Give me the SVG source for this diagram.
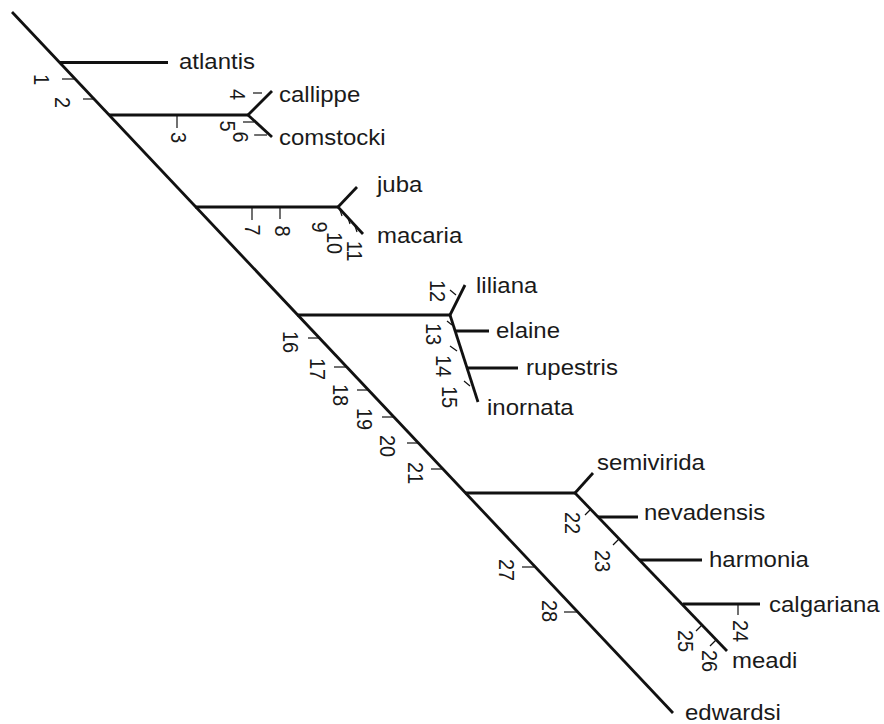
<svg xmlns="http://www.w3.org/2000/svg" width="884" height="724" viewBox="0 0 884 724">
<style>
.b{stroke:#111;stroke-width:2.8;fill:none;stroke-linecap:butt}
.t{stroke:#111;stroke-width:1.2;fill:none}
.l{font-family:"Liberation Sans",Arial,sans-serif;font-size:22px;fill:#1a1a1a}
.n{font-family:"Liberation Sans",Arial,sans-serif;font-size:20px;fill:#1a1a1a;text-anchor:middle}
</style>
<rect width="884" height="724" fill="#fff"/>
<g id="connectors">
<line class="b" x1="12" y1="12" x2="673" y2="713"/>
<line class="b" x1="59" y1="62.5" x2="168" y2="62.5"/>
<line class="b" x1="109" y1="115" x2="248" y2="115"/>
<line class="b" x1="248" y1="115" x2="272" y2="91"/>
<line class="b" x1="248" y1="115" x2="272" y2="137"/>
<line class="b" x1="195" y1="207" x2="338" y2="207"/>
<line class="b" x1="338" y1="207" x2="357" y2="187"/>
<line class="b" x1="338" y1="207" x2="363" y2="234"/>
<line class="b" x1="297" y1="315" x2="450" y2="315"/>
<line class="b" x1="450" y1="315" x2="465" y2="285"/>
<line class="b" x1="450" y1="315" x2="478" y2="402"/>
<line class="b" x1="455" y1="331" x2="489" y2="331"/>
<line class="b" x1="467" y1="368" x2="518" y2="368"/>
<line class="b" x1="465" y1="493" x2="575" y2="493"/>
<line class="b" x1="575" y1="493" x2="593" y2="473"/>
<line class="b" x1="575" y1="493" x2="727" y2="651"/>
<line class="b" x1="598" y1="517" x2="638" y2="517"/>
<line class="b" x1="640" y1="560" x2="702" y2="560"/>
<line class="b" x1="683" y1="604" x2="760" y2="604"/>
</g>
<g id="ticks">
<line class="t" x1="62" y1="79" x2="75" y2="79"/>
<line class="t" x1="83" y1="99" x2="94" y2="99"/>
<line class="t" x1="177" y1="115" x2="177" y2="128"/>
<line class="t" x1="253" y1="93" x2="262" y2="93"/>
<line class="t" x1="243" y1="122" x2="254" y2="122"/>
<line class="t" x1="254" y1="135" x2="267" y2="135"/>
<line class="t" x1="252" y1="207" x2="252" y2="220"/>
<line class="t" x1="280" y1="207" x2="280" y2="219"/>
<line class="t" x1="340" y1="210" x2="342" y2="216"/>
<line class="t" x1="348" y1="218" x2="350" y2="224"/>
<line class="t" x1="355" y1="226" x2="357" y2="232"/>
<line class="t" x1="450" y1="290" x2="456" y2="295"/>
<line class="t" x1="447" y1="321" x2="452" y2="325"/>
<line class="t" x1="450" y1="346" x2="457" y2="351"/>
<line class="t" x1="464" y1="381" x2="470" y2="386"/>
<line class="t" x1="308" y1="338" x2="319" y2="338"/>
<line class="t" x1="334" y1="367" x2="346" y2="367"/>
<line class="t" x1="357" y1="390" x2="368" y2="390"/>
<line class="t" x1="382" y1="417" x2="393" y2="417"/>
<line class="t" x1="407" y1="443" x2="418" y2="443"/>
<line class="t" x1="431" y1="469" x2="442" y2="469"/>
<line class="t" x1="522" y1="567" x2="534" y2="567"/>
<line class="t" x1="564" y1="612" x2="577" y2="612"/>
<line class="t" x1="591" y1="509" x2="585" y2="515"/>
<line class="t" x1="619" y1="539" x2="613" y2="545"/>
<line class="t" x1="738" y1="604" x2="738" y2="615"/>
<line class="t" x1="702" y1="625" x2="696" y2="631"/>
<line class="t" x1="716" y1="640" x2="710" y2="646"/>
</g>
<g id="numbers">
<text class="n" transform="translate(34 79.5) scale(1.09 1) rotate(90)">1</text>
<text class="n" transform="translate(55 102.5) scale(1.09 1) rotate(90)">2</text>
<text class="n" transform="translate(171 137.5) scale(1.09 1) rotate(90)">3</text>
<text class="n" transform="translate(230 94.5) scale(1.09 1) rotate(90)">4</text>
<text class="n" transform="translate(220 126) scale(1.09 1) rotate(90)">5</text>
<text class="n" transform="translate(233 137) scale(1.09 1) rotate(90)">6</text>
<text class="n" transform="translate(245 230) scale(1.09 1) rotate(90)">7</text>
<text class="n" transform="translate(275 231) scale(1.09 1) rotate(90)">8</text>
<text class="n" transform="translate(312 227) scale(1.09 1) rotate(90)">9</text>
<text class="n" transform="translate(327 243) scale(1.09 1) rotate(90)">10</text>
<text class="n" transform="translate(347 251) scale(1.09 1) rotate(90)">11</text>
<text class="n" transform="translate(430 291) scale(1.09 1) rotate(90)">12</text>
<text class="n" transform="translate(426 334) scale(1.09 1) rotate(90)">13</text>
<text class="n" transform="translate(436 366) scale(1.09 1) rotate(90)">14</text>
<text class="n" transform="translate(442 397) scale(1.09 1) rotate(90)">15</text>
<text class="n" transform="translate(283 342) scale(1.09 1) rotate(90)">16</text>
<text class="n" transform="translate(310 369) scale(1.09 1) rotate(90)">17</text>
<text class="n" transform="translate(333 395) scale(1.09 1) rotate(90)">18</text>
<text class="n" transform="translate(357 419) scale(1.09 1) rotate(90)">19</text>
<text class="n" transform="translate(380 446) scale(1.09 1) rotate(90)">20</text>
<text class="n" transform="translate(408 473) scale(1.09 1) rotate(90)">21</text>
<text class="n" transform="translate(565 523) scale(1.09 1) rotate(90)">22</text>
<text class="n" transform="translate(595 561) scale(1.09 1) rotate(90)">23</text>
<text class="n" transform="translate(733 631) scale(1.09 1) rotate(90)">24</text>
<text class="n" transform="translate(678 641) scale(1.09 1) rotate(90)">25</text>
<text class="n" transform="translate(702 661) scale(1.09 1) rotate(90)">26</text>
<text class="n" transform="translate(499 570) scale(1.09 1) rotate(90)">27</text>
<text class="n" transform="translate(542 611) scale(1.09 1) rotate(90)">28</text>
</g>
<g id="atlantis"><text class="l" transform="translate(179 69) scale(1.09 1)">atlantis</text></g>
<g id="callippe"><text class="l" transform="translate(279 102) scale(1.09 1)">callippe</text></g>
<g id="comstocki"><text class="l" transform="translate(279 145) scale(1.09 1)">comstocki</text></g>
<g id="juba"><text class="l" transform="translate(377 192) scale(1.09 1)">juba</text></g>
<g id="macaria"><text class="l" transform="translate(377 243) scale(1.09 1)">macaria</text></g>
<g id="liliana"><text class="l" transform="translate(476 293) scale(1.09 1)">liliana</text></g>
<g id="elaine"><text class="l" transform="translate(496 338) scale(1.09 1)">elaine</text></g>
<g id="rupestris"><text class="l" transform="translate(526 375) scale(1.09 1)">rupestris</text></g>
<g id="inornata"><text class="l" transform="translate(487 415) scale(1.09 1)">inornata</text></g>
<g id="semivirida"><text class="l" transform="translate(597 470) scale(1.09 1)">semivirida</text></g>
<g id="nevadensis"><text class="l" transform="translate(644 520) scale(1.09 1)">nevadensis</text></g>
<g id="harmonia"><text class="l" transform="translate(709 567) scale(1.09 1)">harmonia</text></g>
<g id="calgariana"><text class="l" transform="translate(769 612) scale(1.09 1)">calgariana</text></g>
<g id="meadi"><text class="l" transform="translate(732 668) scale(1.09 1)">meadi</text></g>
<g id="edwardsi"><text class="l" transform="translate(685 720) scale(1.09 1)">edwardsi</text></g>
</svg>
